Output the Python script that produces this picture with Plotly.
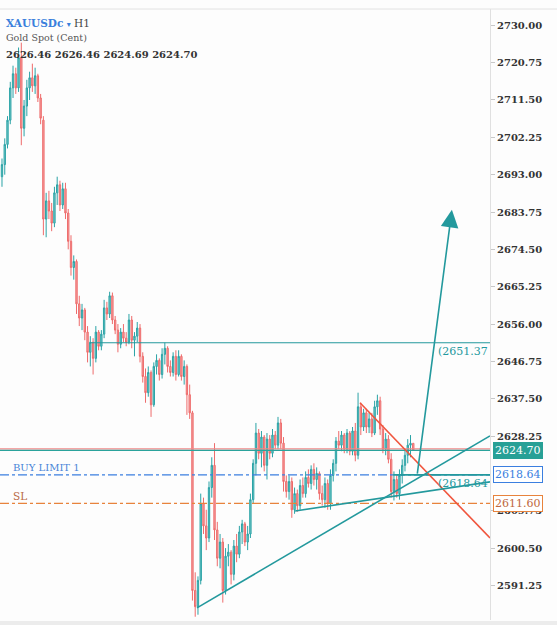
import plotly.graph_objects as go

# ---------------- data (XAUUSDc, H1) ----------------
open_ = [2692.5, 2695.5, 2700.5, 2706.5, 2714.5, 2718.0, 2714.5, 2722.0, 2704.5, 2710.0,
         2714.5, 2717.0, 2715.0, 2717.5, 2712.0, 2706.5, 2682.0, 2686.5, 2684.0, 2681.0,
         2688.5, 2690.5, 2685.5, 2689.5, 2683.5, 2676.5, 2670.0, 2671.5, 2661.0, 2657.5,
         2659.5, 2654.0, 2649.0, 2651.5, 2647.5, 2654.0, 2650.5, 2653.5, 2660.0, 2658.5,
         2663.0, 2657.0, 2654.5, 2651.0, 2654.0, 2652.5, 2651.5, 2657.0, 2652.0, 2653.0,
         2655.0, 2648.0, 2643.0, 2639.0, 2644.0, 2636.0, 2645.5, 2647.0, 2643.5, 2648.5,
         2650.0, 2645.5, 2644.0, 2648.0, 2643.5, 2648.0, 2643.0, 2645.5, 2638.5, 2634.0,
         2590.0, 2586.0, 2592.5, 2611.5, 2606.0, 2603.0, 2615.5, 2621.0, 2605.0, 2598.0,
         2602.0, 2590.0, 2598.5, 2599.5, 2594.0, 2601.0, 2599.0, 2604.5, 2606.5, 2602.0,
         2604.0, 2612.5, 2621.5, 2629.0, 2624.0, 2628.0, 2621.0, 2627.5, 2624.0, 2628.5,
         2626.0, 2631.5, 2626.5, 2617.0, 2614.5, 2617.0, 2610.0, 2614.0, 2611.0, 2616.0,
         2614.0, 2618.0, 2616.5, 2620.0, 2617.5, 2619.0, 2614.0, 2612.5, 2616.5, 2611.5,
         2618.5, 2621.5, 2627.0, 2626.0, 2628.5, 2625.0, 2629.0, 2624.5, 2629.5, 2623.5,
         2635.5, 2630.5, 2634.0, 2630.5, 2632.5, 2629.0, 2635.5, 2637.0, 2630.0, 2625.0,
         2627.5, 2622.5, 2614.5, 2617.5, 2614.0, 2618.5, 2621.0, 2623.5, 2626.0, 2626.46]
high = [2697.0, 2702.0, 2707.5, 2716.0, 2720.0, 2719.5, 2724.5, 2725.7, 2711.5, 2716.5,
        2718.5, 2720.5, 2719.5, 2718.0, 2713.0, 2707.5, 2688.5, 2689.0, 2686.0, 2690.0,
        2692.5, 2691.5, 2691.0, 2691.0, 2684.5, 2678.0, 2673.0, 2672.0, 2663.0, 2661.0,
        2660.0, 2655.5, 2653.0, 2652.5, 2655.5, 2654.5, 2654.5, 2662.0, 2661.5, 2664.0,
        2663.8, 2658.0, 2656.0, 2655.0, 2656.0, 2654.0, 2658.5, 2658.0, 2654.0, 2656.5,
        2656.0, 2649.0, 2645.0, 2645.5, 2644.5, 2646.5, 2648.5, 2647.5, 2650.0, 2651.4,
        2650.5, 2647.0, 2649.0, 2649.5, 2649.5, 2648.5, 2647.0, 2646.0, 2641.0, 2634.5,
        2594.5, 2593.5, 2614.0, 2613.0, 2610.0, 2617.0, 2623.0, 2626.5, 2607.0, 2604.0,
        2603.0, 2600.5, 2601.5, 2600.0, 2602.5, 2604.0, 2606.0, 2607.5, 2607.0, 2606.0,
        2614.0, 2622.5, 2631.5, 2630.0, 2629.5, 2628.5, 2629.0, 2628.5, 2630.0, 2629.5,
        2633.0, 2632.5, 2628.0, 2618.5, 2618.5, 2618.0, 2615.5, 2615.0, 2617.5, 2618.0,
        2619.5, 2620.0, 2621.0, 2621.5, 2620.5, 2619.5, 2616.0, 2618.0, 2617.5, 2620.0,
        2622.5, 2628.0, 2629.5, 2629.5, 2629.0, 2630.0, 2629.5, 2630.5, 2631.5, 2639.0,
        2636.5, 2635.0, 2635.0, 2634.0, 2634.0, 2637.0, 2638.5, 2638.0, 2631.0, 2629.0,
        2628.5, 2624.0, 2619.5, 2618.5, 2620.0, 2622.5, 2625.0, 2627.5, 2628.5, 2626.46]
low = [2690.0, 2693.0, 2699.5, 2705.5, 2712.0, 2713.0, 2713.5, 2700.3, 2702.5, 2707.5,
       2711.5, 2713.5, 2713.0, 2711.0, 2705.5, 2678.0, 2677.5, 2682.0, 2679.0, 2680.0,
       2685.5, 2684.0, 2684.5, 2682.0, 2674.5, 2668.0, 2667.0, 2658.5, 2655.5, 2654.5,
       2652.0, 2646.5, 2645.5, 2643.5, 2646.5, 2649.5, 2649.5, 2652.5, 2657.0, 2657.5,
       2656.0, 2653.5, 2649.0, 2650.0, 2651.5, 2650.5, 2651.0, 2650.0, 2648.0, 2651.5,
       2646.5, 2641.5, 2636.5, 2638.0, 2633.0, 2635.5, 2643.5, 2642.0, 2642.5, 2646.0,
       2644.0, 2643.0, 2643.0, 2642.0, 2643.0, 2642.0, 2641.0, 2633.5, 2632.5, 2587.5,
       2583.5, 2584.0, 2591.5, 2604.0, 2600.0, 2602.0, 2613.0, 2602.5, 2596.0, 2595.5,
       2587.0, 2589.0, 2596.0, 2591.5, 2592.5, 2597.0, 2598.0, 2601.5, 2601.0, 2600.0,
       2603.0, 2611.5, 2618.5, 2622.5, 2620.5, 2619.5, 2617.5, 2622.5, 2623.0, 2625.0,
       2625.0, 2625.0, 2614.5, 2613.0, 2612.5, 2608.0, 2609.0, 2609.5, 2610.0, 2613.0,
       2613.0, 2615.5, 2615.0, 2616.0, 2615.0, 2612.5, 2611.0, 2610.5, 2610.0, 2610.0,
       2617.0, 2619.5, 2625.0, 2624.5, 2624.0, 2624.0, 2623.5, 2623.5, 2622.0, 2622.5,
       2628.5, 2629.5, 2629.0, 2629.0, 2628.0, 2628.5, 2633.5, 2628.5, 2624.0, 2623.5,
       2621.5, 2613.0, 2612.3, 2613.0, 2612.5, 2616.5, 2619.5, 2621.5, 2623.0, 2624.69]
close = [2695.5, 2700.5, 2706.5, 2714.5, 2718.0, 2714.5, 2722.0, 2704.5, 2710.0, 2714.5,
         2717.0, 2715.0, 2717.5, 2712.0, 2707.0, 2682.0, 2686.5, 2684.0, 2681.0, 2688.5,
         2690.5, 2685.5, 2689.5, 2683.5, 2676.5, 2670.0, 2671.5, 2661.0, 2657.5, 2659.5,
         2654.0, 2649.0, 2651.5, 2647.5, 2654.0, 2650.5, 2653.5, 2660.0, 2658.5, 2663.0,
         2657.0, 2654.5, 2651.0, 2654.0, 2652.5, 2651.5, 2657.0, 2652.0, 2653.0, 2655.0,
         2648.0, 2643.0, 2639.0, 2644.0, 2636.0, 2645.5, 2647.0, 2643.5, 2648.5, 2650.0,
         2645.5, 2644.0, 2648.0, 2643.5, 2648.0, 2643.0, 2645.5, 2638.5, 2634.0, 2590.0,
         2586.0, 2592.5, 2611.5, 2606.0, 2603.0, 2615.5, 2621.0, 2605.0, 2598.0, 2602.0,
         2590.0, 2598.5, 2599.5, 2594.0, 2601.0, 2599.0, 2604.5, 2606.5, 2602.0, 2604.0,
         2612.5, 2621.5, 2629.0, 2624.0, 2628.0, 2621.0, 2627.5, 2624.0, 2628.5, 2626.0,
         2631.5, 2626.5, 2617.0, 2614.5, 2617.0, 2610.0, 2614.0, 2611.0, 2616.0, 2614.0,
         2618.0, 2616.5, 2620.0, 2617.5, 2619.0, 2614.0, 2612.5, 2616.5, 2611.5, 2618.5,
         2621.5, 2627.0, 2626.0, 2628.5, 2625.0, 2629.0, 2624.5, 2629.5, 2623.5, 2635.5,
         2630.5, 2634.0, 2630.5, 2632.5, 2629.0, 2635.5, 2637.0, 2630.0, 2625.0, 2627.5,
         2622.5, 2614.5, 2617.5, 2614.0, 2618.5, 2621.0, 2623.5, 2626.0, 2626.46, 2624.70]
bars = list(range(len(close)))

# price levels
bid_price = 2624.70
ask_price = 2625.10
buy_limit_price = 2618.64
stop_loss_price = 2611.60
level_high = 2651.37
level_high_start = 31.9          # bar index where the 2651.37 level starts
level_low = 2618.64
level_low_start = 141.7

# trend lines / arrow in (bar index, price)
resistance_line = [(129.7, 2636.5), (176.8, 2603.0)]
support_long = [(70.65, 2585.7), (176.8, 2628.3)]
support_flat = [(106.2, 2609.7), (176.8, 2616.9)]
arrow_path = [(150.4, 2618.6), (163.0, 2684.3)]

# 2619.00 is hidden under the BUY LIMIT price tag in the reference
ytick_values = [2730.00, 2720.75, 2711.50, 2702.25, 2693.00, 2683.75, 2674.50, 2665.25,
                2656.00, 2646.75, 2637.50, 2628.25, 2609.75, 2600.50, 2591.25]

header_ohlc = "2626.46 2626.46 2624.69 2624.70"

# ---------------- styles ----------------
FONT = "DejaVu Serif"
TEAL = "#23999d"
PLOT_W, PLOT_TOP, PLOT_BOT = 490, 9, 620


def px(x):
    return x / PLOT_W


def py(y):
    return (PLOT_BOT - y) / (PLOT_BOT - PLOT_TOP)


fig = go.Figure()
fig.add_trace(go.Candlestick(
    x=bars, open=open_, high=high, low=low, close=close,
    increasing=dict(line=dict(color="#2aa3a6", width=1), fillcolor="#7ccaca"),
    decreasing=dict(line=dict(color="#ee6b6b", width=1), fillcolor="#f6a6a6"),
    whiskerwidth=0, hoverinfo="skip", showlegend=False,
))

shapes = []
# horizontal price lines
shapes.append(dict(type="line", xref="paper", yref="y", x0=0, x1=1, y0=ask_price, y1=ask_price,
                   line=dict(color="#f08a8a", width=1.2)))
shapes.append(dict(type="line", xref="paper", yref="y", x0=0, x1=1, y0=bid_price, y1=bid_price,
                   line=dict(color="#2aa39c", width=1.2)))
shapes.append(dict(type="line", xref="paper", yref="y", x0=0, x1=1, y0=buy_limit_price, y1=buy_limit_price,
                   line=dict(color="#3b7fe0", width=1.3, dash="dashdot")))
shapes.append(dict(type="line", xref="paper", yref="y", x0=0, x1=1, y0=stop_loss_price, y1=stop_loss_price,
                   line=dict(color="#e8833c", width=1.3, dash="dashdot")))
shapes.append(dict(type="line", xref="x", yref="y", x0=level_high_start, x1=176.8, y0=level_high, y1=level_high,
                   line=dict(color=TEAL, width=1.2)))
shapes.append(dict(type="line", xref="x", yref="y", x0=level_low_start, x1=176.8, y0=level_low, y1=level_low,
                   line=dict(color=TEAL, width=1.6)))
# trend lines
for (p0, p1), col in [(resistance_line, "#f0553d"), (support_long, TEAL), (support_flat, TEAL)]:
    shapes.append(dict(type="line", xref="x", yref="y", x0=p0[0], y0=p0[1], x1=p1[0], y1=p1[1],
                       line=dict(color=col, width=1.6)))
# frame pieces
shapes.append(dict(type="line", xref="paper", yref="paper", x0=0, x1=557 / PLOT_W, y0=1, y1=1,
                   line=dict(color="#e2e2e2", width=1)))
shapes.append(dict(type="rect", xref="paper", yref="paper", x0=0, x1=557 / PLOT_W, y0=py(626), y1=py(621),
                   fillcolor="#ececec", line=dict(width=0), layer="above"))

ann = []
ann.append(dict(xref="paper", yref="paper", x=px(4), y=py(23), xanchor="left", yanchor="middle",
                text="<span style='color:#3a7fdc'><b>XAUUSDc</b> <span style='font-size:8px'>▾</span></span>"
                     "<span style='color:#444'> H1</span>",
                showarrow=False, font=dict(family=FONT, size=10.5)))
ann.append(dict(xref="paper", yref="paper", x=px(4), y=py(37), xanchor="left", yanchor="middle",
                text="Gold Spot (Cent)", showarrow=False, font=dict(family=FONT, size=9.5, color="#555")))
ann.append(dict(xref="paper", yref="paper", x=px(4), y=py(54), xanchor="left", yanchor="middle",
                text="<b>" + header_ohlc + "</b>", showarrow=False,
                font=dict(family=FONT, size=10, color="#333")))
ann.append(dict(xref="paper", yref="paper", x=px(11), y=py(468), xanchor="left", yanchor="middle",
                text="BUY LIMIT 1", showarrow=False, font=dict(family=FONT, size=10, color="#4a86d8")))
ann.append(dict(xref="paper", yref="paper", x=px(11), y=py(496), xanchor="left", yanchor="middle",
                text="SL", showarrow=False, font=dict(family=FONT, size=10.5, color="#b86a45")))
ann.append(dict(xref="x", yref="y", x=176.8, y=level_high, xanchor="right", yanchor="top",
                text="(%.2f" % level_high, showarrow=False, font=dict(family=FONT, size=11, color=TEAL)))
ann.append(dict(xref="x", yref="y", x=176.8, y=level_low, xanchor="right", yanchor="top",
                text="(%.2f" % level_low, showarrow=False, font=dict(family=FONT, size=11, color=TEAL)))
# arrow
ann.append(dict(xref="x", yref="y", axref="x", ayref="y",
                x=arrow_path[1][0], y=arrow_path[1][1], ax=arrow_path[0][0], ay=arrow_path[0][1],
                text="", showarrow=True, arrowhead=2, arrowsize=2.2, arrowwidth=1.6, arrowcolor=TEAL))
# right-axis price tags
for price, bg, border, fc in [(bid_price, "#27a096", "#27a096", "#ffffff"),
                              (buy_limit_price, "#ffffff", "#3b7fe0", "#3b7fe0"),
                              (stop_loss_price, "#ffffff", "#e8833c", "#c0683e")]:
    ann.append(dict(xref="paper", yref="y", x=px(493), y=price, xanchor="left", yanchor="middle",
                    text="%.2f" % price, showarrow=False, bgcolor=bg, bordercolor=border,
                    borderwidth=1, borderpad=1,
                    font=dict(family=FONT, size=11, color=fc)))

fig.update_layout(
    width=557, height=625,
    margin=dict(l=0, r=557 - PLOT_W, t=PLOT_TOP, b=625 - PLOT_BOT),
    paper_bgcolor="#fdfdfd", plot_bgcolor="#fdfdfd",
    showlegend=False,
    shapes=shapes, annotations=ann,
    xaxis=dict(range=[-0.72, 176.8], visible=False, rangeslider=dict(visible=False), fixedrange=True),
    yaxis=dict(side="right", range=[2582.69, 2734.04], tickvals=ytick_values, tickformat=".2f",
               ticks="outside", ticklen=4, tickcolor="#c8c8c8", showgrid=False, zeroline=False,
               showline=True, linecolor="#e0e0e0", fixedrange=True,
               tickfont=dict(family=FONT, size=10, color="#333", weight="bold")),
)

fig.write_html("out.html", config={"displayModeBar": False},
               post_script="document.body.style.margin='0';document.body.style.background='#fdfdfd';")
